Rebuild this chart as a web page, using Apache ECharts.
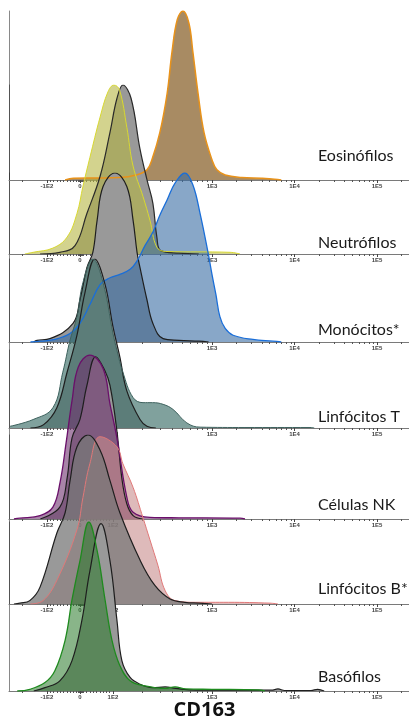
<!DOCTYPE html>
<html><head><meta charset="utf-8">
<script src="https://cdn.jsdelivr.net/npm/echarts@6/dist/echarts.min.js"></script>
<style>html,body{margin:0;padding:0;background:#fff}#c{width:409px;height:725px}</style>
</head><body><div id="c"></div>
<script>
// Display scale units: -1E2 -> -1, 0 -> 0, 1E2 -> 1, 1E3 -> 4, 1E4 -> 6.5, 1E5 -> 9
const tickPositions = [-1, 0, 1, 4, 6.5, 9];
const tickLabels = ['-1E2', '0', '1E2', '1E3', '1E4', '1E5'];
const minorTickPositions = [-1.75,
  -0.9,-0.8,-0.7,-0.6,-0.5,-0.4,-0.3,-0.2,-0.1,-0.06,-0.03,0.03,0.06,
  0.1,0.2,0.3,0.4,0.5,0.6,0.7,0.8,0.9,
  1.90,2.43,2.81,3.10,3.33,3.54,3.71,3.86,
  4.75,5.19,5.51,5.75,5.95,6.11,6.26,6.39,
  7.25,7.69,8.01,8.25,8.45,8.61,8.76,8.89,9.75];

const panelNames = ['Eosinófilos','Neutrófilos','Monócitos*','Linfócitos T','Células NK','Linfócitos B*','Basófilos'];
const axisTitle = 'CD163';

// histograms: [display channel, % of mode]
const eosinophils = [[-0.45,0],[-0.2,1],[0.5,1.2],[1.2,1.5],[1.7,3],[2.03,6],[2.18,12],[2.42,28],[2.64,51],[2.79,76],[2.95,95],[3.12,100],[3.3,93],[3.42,76],[3.58,51],[3.76,28],[4.0,12],[4.15,6],[4.4,3],[4.9,1.5],[5.5,1],[5.9,0.5],[6.1,0]];
const neutroControl = [[-1.21,0],[-0.61,1],[-0.15,5],[0.21,24],[0.61,46],[0.91,72],[1.12,92],[1.30,100],[1.55,92],[1.82,62],[2.03,44],[2.21,30],[2.33,10],[2.45,2],[3.0,0.5],[3.6,0]];
const neutrophils = [[-1.67,0],[-1.42,1],[-0.82,3.5],[-0.39,10],[-0.09,24],[0.09,40],[0.3,57],[0.61,81],[0.85,96],[1.03,100],[1.2,97],[1.42,75],[1.61,52],[1.91,34],[2.12,20],[2.33,4],[2.6,1.5],[4.55,1],[4.85,0]];
const monoControl = [[-1.4,0],[-1.3,1],[-0.91,2],[-0.21,11],[0,25],[0.21,44],[0.39,53],[0.52,72],[0.7,92],[1.06,100],[1.42,92],[1.61,72],[1.73,53],[1.82,44],[2.03,25],[2.21,11],[2.52,2],[3.0,1],[3.6,0.5],[3.9,0]];
const monocytes = [[-1.5,0],[-1.2,0.5],[-0.76,1.5],[-0.3,5],[0,11],[0.3,22],[0.61,34],[0.91,38],[1.21,40],[1.52,43],[1.73,48],[1.97,57],[2.21,65],[2.42,75],[2.64,84],[2.88,94],[3.18,100],[3.42,93],[3.64,76],[3.88,53],[4.0,40],[4.12,28],[4.24,15],[4.4,8],[4.64,4],[5.24,1.5],[5.85,0.5],[6.1,0]];
const tControl = [[-1.5,0],[-1.1,2],[-0.7,12],[-0.39,33],[-0.09,55],[0.15,80],[0.45,100],[0.76,85],[1.0,60],[1.21,42],[1.42,22],[1.82,5],[2.03,1],[2.3,0]];
const tLymph = [[-2.12,1],[-1.42,5],[-0.82,12],[-0.52,33],[-0.3,52],[-0.09,66],[0.09,86],[0.39,100],[0.7,86],[1.0,56],[1.12,46],[1.30,33],[1.61,18],[1.91,15],[2.2,15],[2.52,14],[2.82,11],[3.24,3],[3.64,0.5],[5.0,0.3],[6.97,0.3],[7.1,0]];
const nkControl = [[-1.2,0],[-0.61,7],[-0.39,24],[-0.24,48],[0,59],[0.21,79],[0.48,96],[0.75,88],[0.91,79],[1.12,52],[1.27,24],[1.42,9],[1.61,2],[1.9,0]];
const nkCells = [[-2.0,0],[-1.82,0.5],[-1.21,2],[-0.82,7],[-0.6,22],[-0.42,45],[-0.24,70],[-0.05,90],[0.3,97],[0.7,89],[0.91,68],[1.12,48],[1.42,13],[1.61,4],[2.12,1],[3.0,0.7],[4.85,0.5],[5.0,0]];
const bControl = [[-2.0,0],[-1.82,0.5],[-1.52,2],[-1.21,10],[-0.7,42],[-0.45,54],[-0.3,73],[-0.09,93],[0.24,100],[0.61,91],[0.91,73],[1.21,54],[1.82,26],[2.27,11],[2.73,3],[3.18,1],[3.6,0.5],[4.0,0]];
const bLymph = [[-1.5,0],[-1.12,2],[-0.7,14],[-0.09,44],[0.09,63],[0.3,83],[0.61,99],[1.12,93],[1.30,83],[1.61,69],[1.91,51],[2.12,38],[2.36,23],[2.58,8],[2.88,2],[3.5,1],[4.5,1],[5.76,0.5],[6.0,0]];
const basoControl = [[-1.4,0],[-1.06,2],[-0.61,6],[-0.24,18],[0.06,42],[0.30,71],[0.64,99],[0.91,77],[1.12,42],[1.27,18],[1.52,8],[1.82,4],[2.2,2],[2.58,2.4],[2.9,1.5],[3.5,0.5],[5.8,0.5],[6.0,1.2],[6.2,0.3],[7.0,0.3],[7.2,1],[7.4,0]];
const basophils = [[-1.9,0],[-1.52,1],[-1.06,5],[-0.76,12],[-0.45,30],[-0.24,54],[0,77],[0.27,100],[0.52,83],[0.76,54],[0.97,30],[1.21,15],[1.52,6],[1.97,3],[2.58,1.5],[2.88,2.5],[3.2,1.2],[4.0,1],[5.39,0.7],[5.6,0]];

const baselines = [180, 254, 342, 428, 519, 604, 691];
const panelH = 169;
const labelY = [158, 245, 332, 419, 507, 591, 679];

const grids = [], xAxes = [], yAxes = [];
baselines.forEach((b, i) => {
  grids.push({ left: 9, right: 0, top: b - panelH, height: panelH });
  xAxes.push({
    type: 'value', gridIndex: i, min: -2.15, max: 9.97, position: 'bottom',
    axisLine: { show: true, onZero: false, lineStyle: { color: '#7a7a7a', width: 1 } },
    axisTick: { show: true, customValues: tickPositions, length: 3, lineStyle: { color: '#444', width: 1 } },
    axisLabel: { show: true, customValues: tickPositions, margin: 3, fontSize: 6, fontWeight: 'bold', color: '#444', fontFamily: 'Liberation Sans',
      formatter: v => { const k = tickPositions.findIndex(t => Math.abs(t - v) < 1e-6); return k >= 0 ? tickLabels[k] : ''; } },
    splitLine: { show: false }
  });
  xAxes.push({
    type: 'value', gridIndex: i, min: -2.15, max: 9.97, position: 'bottom',
    axisLine: { show: false, onZero: false },
    axisTick: { show: true, customValues: minorTickPositions, length: 2, lineStyle: { color: '#555', width: 1 } },
    axisLabel: { show: false }, splitLine: { show: false }
  });
  yAxes.push({
    type: 'value', gridIndex: i, min: 0, max: 100, position: 'left',
    axisLine: { show: true, onZero: false, lineStyle: { color: 'rgba(40,40,40,0.55)', width: 1 } },
    axisTick: { show: false }, axisLabel: { show: false }, splitLine: { show: false }
  });
});

function hist(panel, data, fill, line, lw) {
  return {
    type: 'line', xAxisIndex: panel * 2, yAxisIndex: panel, data: data,
    smooth: 0.4, symbol: 'none', silent: true,
    lineStyle: { color: line, width: lw || 1.2 },
    areaStyle: { color: fill, opacity: 1 }
  };
}

const series = [
  hist(0, eosinophils, '#a88b63', '#e8921a', 1.5),
  hist(1, neutroControl, '#999999', '#2a2a2a'),
  hist(1, neutrophils, 'rgba(182,182,67,0.6)', '#d8d830', 1),
  hist(2, monoControl, '#999999', '#1e1e1e'),
  hist(2, monocytes, 'rgba(57,108,164,0.6)', '#1a6ed8', 1.3),
  hist(3, tControl, '#999999', '#1e1e1e'),
  hist(3, tLymph, 'rgba(60,110,105,0.65)', '#3e625e', 1),
  hist(4, nkControl, '#999999', '#1e1e1e'),
  hist(4, nkCells, 'rgba(110,50,110,0.6)', '#6a106a', 1.3),
  hist(5, bLymph, 'rgba(200,140,140,0.6)', '#e07878', 1),
  hist(5, bControl, 'rgba(119,119,119,0.75)', '#1e1e1e'),
  hist(6, basoControl, '#999999', '#1e1e1e'),
  hist(6, basophils, 'rgba(40,120,40,0.55)', '#1e8a1e', 1.3)
];

const graphics = panelNames.map((n, i) => ({
  type: 'text', left: 318, top: labelY[i] - 10, z: 100,
  style: { text: n, font: '16px Lato', fill: '#1a1a1a' }
}));
graphics.push({ type: 'text', left: 'center', top: 700, z: 100,
  style: { text: axisTitle, font: 'bold 20px "Open Sans"', fill: '#111' } });

const chart = echarts.init(document.getElementById('c'), null, { renderer: 'canvas' });
chart.setOption({
  animation: false, backgroundColor: '#fff',
  grid: grids, xAxis: xAxes, yAxis: yAxes, series: series, graphic: graphics
});
</script></body></html>
